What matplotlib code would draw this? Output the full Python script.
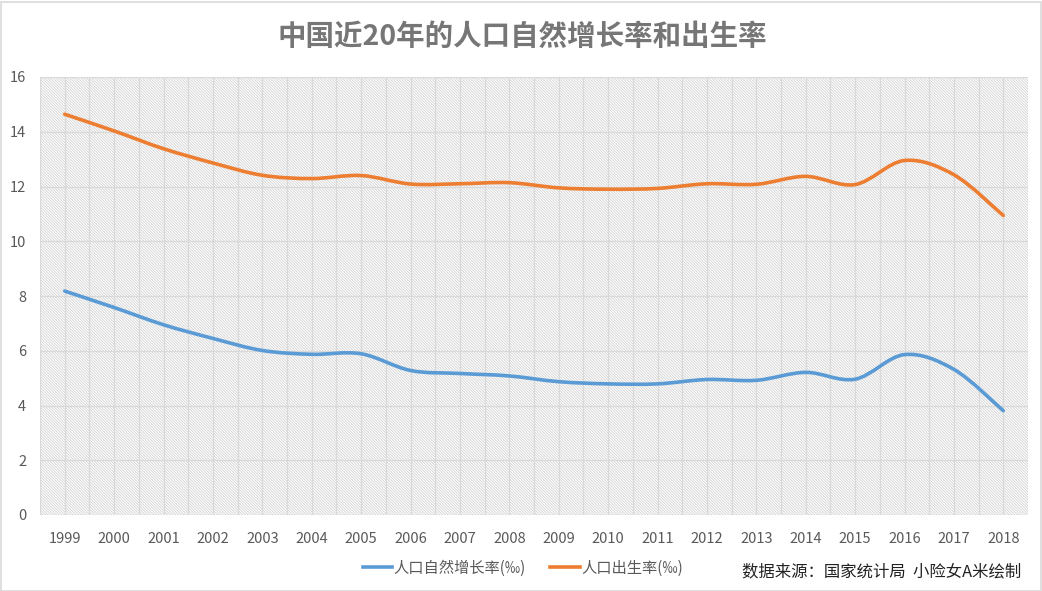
import matplotlib
matplotlib.use("Agg")
import matplotlib.pyplot as plt
from matplotlib.path import Path
from matplotlib.patches import PathPatch, Rectangle
import numpy as np

plt.rcParams['font.family'] = ['Noto Sans CJK SC', 'DejaVu Sans']
plt.rcParams['hatch.linewidth'] = 0.6
plt.rcParams['hatch.color'] = '#d2d2d2'

years = ['1999', '2000', '2001', '2002', '2003', '2004', '2005', '2006', '2007', '2008',
         '2009', '2010', '2011', '2012', '2013', '2014', '2015', '2016', '2017', '2018']
growth_rate = [8.18, 7.58, 6.95, 6.45, 6.01, 5.87, 5.89, 5.28, 5.17, 5.08,
               4.87, 4.79, 4.79, 4.95, 4.92, 5.21, 4.96, 5.86, 5.32, 3.81]
birth_rate = [14.64, 14.03, 13.38, 12.86, 12.41, 12.29, 12.40, 12.09, 12.10, 12.14,
              11.95, 11.90, 11.93, 12.10, 12.08, 12.37, 12.07, 12.95, 12.43, 10.94]
yticks = [0, 2, 4, 6, 8, 10, 12, 14, 16]

title = '中国近20年的人口自然增长率和出生率'
label_growth = '人口自然增长率(‰)'
label_birth = '人口出生率(‰)'
source = '数据来源：国家统计局  小险女A米绘制'

BLUE = '#5B9BD5'
ORANGE = '#ED7D31'
TXT = '#595959'

fig = plt.figure(figsize=(10.42, 5.91), dpi=100)
ax = fig.add_axes([40/1042, 1-515/591, 988/1042, 438/591])

# hatched background
bg = Rectangle((0, 0), 1, 1, transform=ax.transAxes, facecolor='white',
               edgecolor='#d2d2d2', hatch='\\' * 12, linewidth=0, zorder=0)
ax.add_patch(bg)


def smooth_path(xs, ys):
    pts = list(zip(xs, ys))
    n = len(pts)
    verts = [pts[0]]
    codes = [Path.MOVETO]
    for i in range(n - 1):
        p0 = pts[i - 1] if i > 0 else pts[i]
        p1 = pts[i]
        p2 = pts[i + 1]
        p3 = pts[i + 2] if i + 2 < n else pts[i + 1]
        c1 = (p1[0] + (p2[0] - p0[0]) / 6, p1[1] + (p2[1] - p0[1]) / 6)
        c2 = (p2[0] - (p3[0] - p1[0]) / 6, p2[1] - (p3[1] - p1[1]) / 6)
        verts += [c1, c2, p2]
        codes += [Path.CURVE4] * 3
    return Path(verts, codes)


x = np.arange(len(years))
for vals, col in [(growth_rate, BLUE), (birth_rate, ORANGE)]:
    ax.add_patch(PathPatch(smooth_path(x, vals), facecolor='none', edgecolor=col,
                           linewidth=2.6, capstyle='round', joinstyle='round', zorder=3))

ax.set_xlim(-0.5, len(years) - 0.5)
ax.set_ylim(0, 16)
ax.set_xticks(x)
ax.set_xticklabels(years)
ax.set_xticks(np.arange(-0.5, len(years), 1.0), minor=True)
ax.set_yticks(yticks)
ax.set_yticklabels([str(v) for v in yticks])
ax.tick_params(axis='both', which='both', length=0, colors=TXT, labelsize=10.5)
ax.tick_params(axis='x', pad=12)
ax.tick_params(axis='y', pad=10)
ax.grid(True, which='major', color='#d9d9d9', linewidth=0.9, zorder=1)
ax.grid(True, which='minor', axis='x', color='#d9d9d9', linewidth=0.9, zorder=1)
ax.set_axisbelow(True)
for s in ax.spines.values():
    s.set_visible(False)

# legend
h1, = ax.plot([], [], color=BLUE, linewidth=2.6, label=label_growth)
h2, = ax.plot([], [], color=ORANGE, linewidth=2.6, label=label_birth)
fig.legend(handles=[h1, h2], loc='center', bbox_to_anchor=(523/1042, 1-568/591),
           ncol=2, frameon=False, fontsize=11, handlelength=1.9, handletextpad=0.1,
           columnspacing=1.6, labelcolor=TXT)

fig.text(522/1042, 1-37/591, title, ha='center', va='center', fontsize=20.5,
         fontweight='bold', color='#767676')
fig.text(1021/1042, 1-572/591, source, ha='right', va='center', fontsize=11.8,
         color='#222222')

fig.add_artist(Rectangle((0.5/1042, 0.5/591), 1040/1042, 589/591, transform=fig.transFigure,
                         facecolor='none', edgecolor='#d9d9d9', linewidth=1.2))

fig.savefig('out.png', dpi=100)
